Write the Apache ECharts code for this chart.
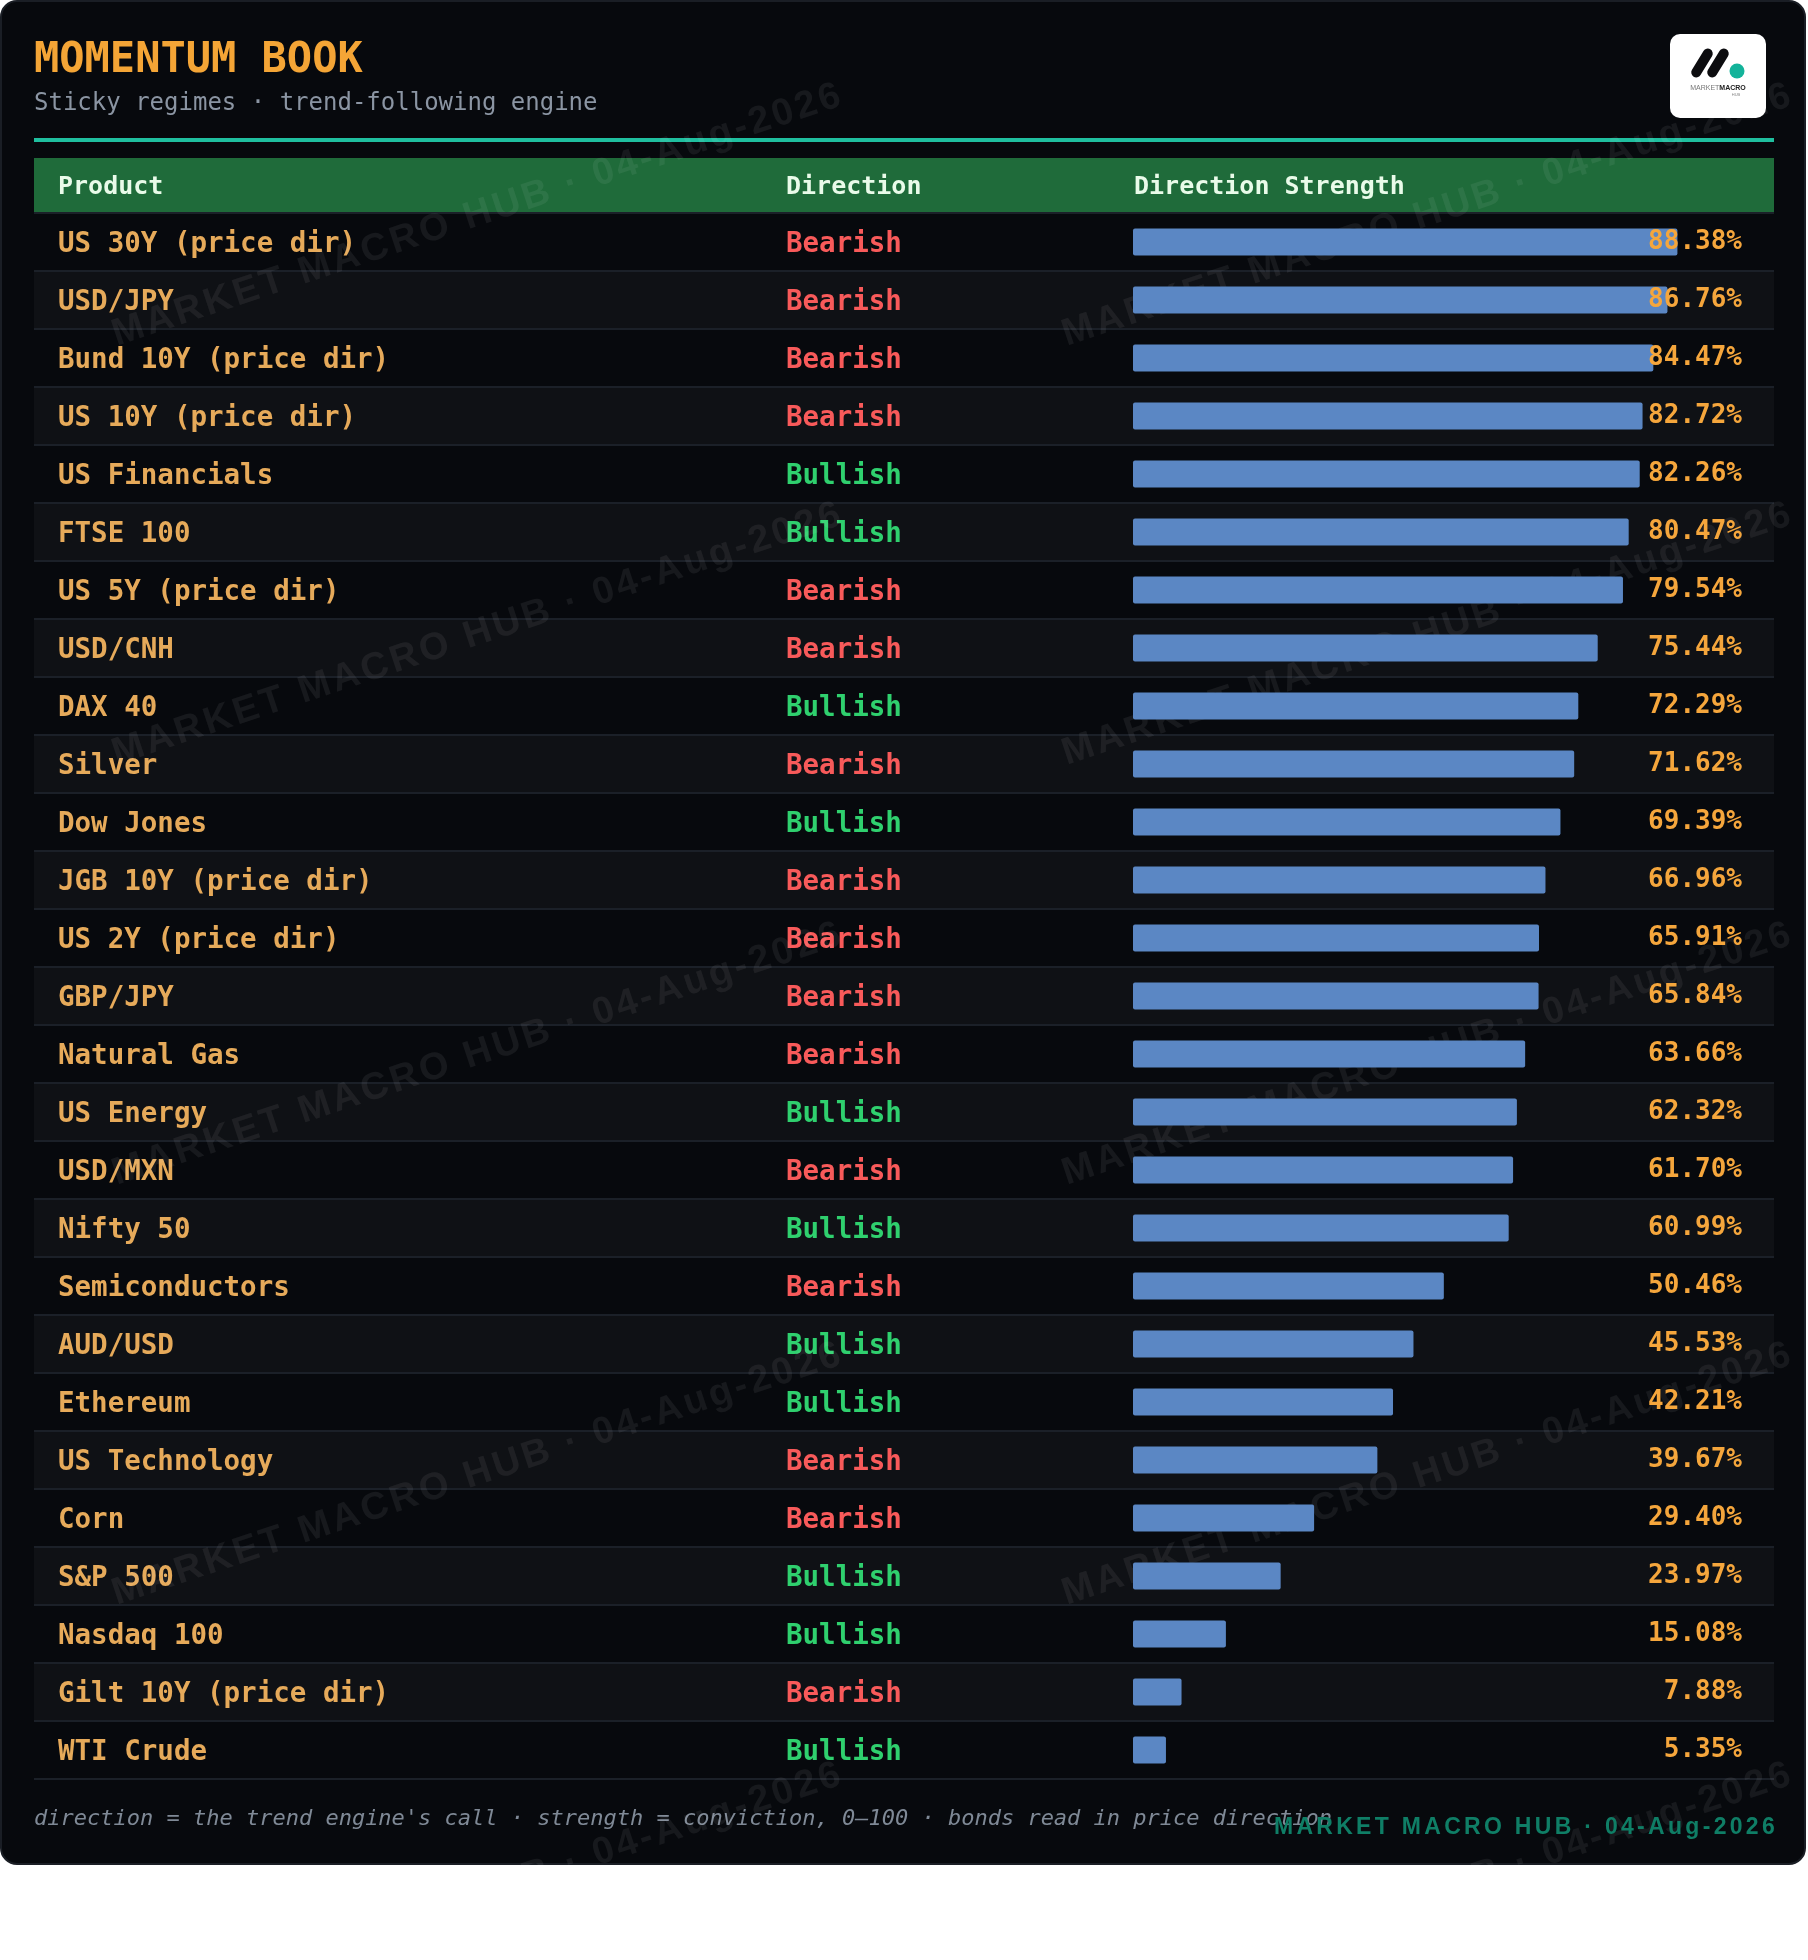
<!DOCTYPE html>
<html>
<head>
<meta charset="utf-8">
<title>Momentum Book</title>
<script src="https://cdn.jsdelivr.net/npm/echarts@6/dist/echarts.min.js"></script>
<style>
  html, body { margin: 0; padding: 0; background: #ffffff; }
  #chart { width: 1808px; height: 1960px; }
</style>
</head>
<body>
<div id="chart"></div>
<script>
// ---- data ----
const products = [
  'US 30Y (price dir)', 'USD/JPY', 'Bund 10Y (price dir)', 'US 10Y (price dir)',
  'US Financials', 'FTSE 100', 'US 5Y (price dir)', 'USD/CNH', 'DAX 40', 'Silver',
  'Dow Jones', 'JGB 10Y (price dir)', 'US 2Y (price dir)', 'GBP/JPY', 'Natural Gas',
  'US Energy', 'USD/MXN', 'Nifty 50', 'Semiconductors', 'AUD/USD', 'Ethereum',
  'US Technology', 'Corn', 'S&P 500', 'Nasdaq 100', 'Gilt 10Y (price dir)', 'WTI Crude'
];
const directions = [
  'Bearish', 'Bearish', 'Bearish', 'Bearish', 'Bullish', 'Bullish', 'Bearish', 'Bearish',
  'Bullish', 'Bearish', 'Bullish', 'Bearish', 'Bearish', 'Bearish', 'Bearish', 'Bullish',
  'Bearish', 'Bullish', 'Bearish', 'Bullish', 'Bullish', 'Bearish', 'Bearish', 'Bullish',
  'Bullish', 'Bearish', 'Bullish'
];
const strengths = [
  88.38, 86.76, 84.47, 82.72, 82.26, 80.47, 79.54, 75.44, 72.29, 71.62, 69.39, 66.96,
  65.91, 65.84, 63.66, 62.32, 61.70, 60.99, 50.46, 45.53, 42.21, 39.67, 29.40, 23.97,
  15.08, 7.88, 5.35
];
const columnTitles = ['Product', 'Direction', 'Direction Strength'];
const titleText = 'MOMENTUM BOOK';
const subtitleText = 'Sticky regimes · trend-following engine';
const footNote = "direction = the trend engine's call · strength = conviction, 0–100 · bonds read in price direction";
const brandLine = 'MARKET MACRO HUB · 04-Aug-2026';

// ---- layout ----
const MONO = "'DejaVu Sans Mono', monospace";
const SANS = "'Liberation Sans', Arial, sans-serif";
const tableLeft = 34, tableWidth = 1740;
const rowsTop = 213, rowH = 58;
const barLeft = 1133, barWidth = 616;

// echarts has no letter-spacing option; the brand line is tracked out on canvas
const baseFillText = CanvasRenderingContext2D.prototype.fillText;
CanvasRenderingContext2D.prototype.fillText = function (t, x, y, w) {
  if (t === brandLine) {
    this.letterSpacing = '3.3px';
    baseFillText.call(this, t, x, y, w);
    this.letterSpacing = '0px';
    return;
  }
  return w === undefined ? baseFillText.call(this, t, x, y) : baseFillText.call(this, t, x, y, w);
};

const watermarks = [];
[478, 1428].forEach(function (cx) {
  [215, 634, 1054, 1474, 1894].forEach(function (cy) {
    watermarks.push({
      type: 'text', x: cx, y: cy, rotation: 0.32, z: 1, silent: true,
      style: {
        text: brandLine, align: 'center', verticalAlign: 'middle',
        font: 'bold 38px ' + SANS, fill: 'rgba(255,255,255,0.065)'
      }
    });
  });
});

const logo = {
  type: 'group', x: 1670, y: 34, z: 3,
  children: [
    { type: 'rect', shape: { x: 0, y: 0, width: 96, height: 84, r: 10 }, style: { fill: '#ffffff' } },
    { type: 'rect', x: 32, y: 29, rotation: -0.55, shape: { x: -5, y: -16, width: 10, height: 32, r: 5 }, style: { fill: '#0c0c0f' } },
    { type: 'rect', x: 48, y: 29, rotation: -0.55, shape: { x: -5, y: -16, width: 10, height: 32, r: 5 }, style: { fill: '#0c0c0f' } },
    { type: 'circle', shape: { cx: 67, cy: 37, r: 7.5 }, style: { fill: '#13b39a' } },
    {
      type: 'text', x: 48, y: 54,
      style: {
        text: '{a|MARKET}{b|MACRO}', align: 'center', verticalAlign: 'middle',
        rich: {
          a: { fontFamily: SANS, fontSize: 7, fill: '#777777' },
          b: { fontFamily: SANS, fontSize: 7, fontWeight: 'bold', fill: '#222222' }
        }
      }
    },
    { type: 'text', x: 66, y: 61, style: { text: 'HUB', align: 'center', verticalAlign: 'middle', font: '4px ' + SANS, fill: '#888888' } }
  ]
};

const chart = echarts.init(document.getElementById('chart'), null, { renderer: 'canvas' });

chart.setOption({
  backgroundColor: '#ffffff',
  animation: false,
  grid: [
    { left: tableLeft, top: rowsTop, width: tableWidth, height: rowH * products.length },
    { left: barLeft, top: rowsTop, width: barWidth, height: rowH * products.length }
  ],
  xAxis: [
    { gridIndex: 0, type: 'value', show: false, min: 0, max: 1 },
    { gridIndex: 1, type: 'value', show: false, min: 0, max: 100 }
  ],
  yAxis: [
    {
      // row stripes, separators and product names across the whole table
      gridIndex: 0, type: 'category', data: products, inverse: true,
      axisLine: { show: false }, axisTick: { show: false },
      splitArea: { show: true, interval: 0, areaStyle: { color: ['#07090d', '#0f1115'] } },
      splitLine: { show: true, interval: 0, lineStyle: { color: '#1b2028', width: 2 } },
      axisLabel: {
        inside: true, margin: 24, align: 'left', interval: 0,
        formatter: function (v) { return '{p|' + v + '}'; },
        rich: {
          p: { color: '#e6aa5a', fontFamily: MONO, fontWeight: 'bold', fontSize: 27.5, padding: [6, 0, 0, 0] }
        }
      }
    },
    {
      // direction column
      gridIndex: 1, type: 'category', data: products, inverse: true, position: 'left',
      axisLine: { show: false }, axisTick: { show: false },
      axisLabel: {
        margin: barLeft - 786, align: 'left', interval: 0, padding: [6, 0, 0, 0],
        formatter: function (v, i) {
          return directions[i] === 'Bullish' ? '{bull|' + directions[i] + '}' : '{bear|' + directions[i] + '}';
        },
        rich: {
          bull: { color: '#2fd06e', fontFamily: MONO, fontWeight: 'bold', fontSize: 27.5 },
          bear: { color: '#f85a5a', fontFamily: MONO, fontWeight: 'bold', fontSize: 27.5 }
        }
      }
    },
    {
      // strength figures, drawn over the bars
      gridIndex: 1, type: 'category', data: products, inverse: true, position: 'right', z: 5,
      axisLine: { show: false }, axisTick: { show: false },
      axisLabel: {
        margin: -7, align: 'right', interval: 0, padding: [2, 0, 0, 0],
        formatter: function (v, i) { return strengths[i].toFixed(2) + '%'; },
        color: '#f5a63c', fontFamily: MONO, fontWeight: 'bold', fontSize: 26
      }
    }
  ],
  series: [{
    type: 'bar', xAxisIndex: 1, yAxisIndex: 1, data: strengths,
    barWidth: 27, silent: true,
    itemStyle: { color: '#5b87c4', borderRadius: 2 }
  }],
  graphic: [
    {
      type: 'rect', z: -10, silent: true,
      shape: { x: 1, y: 1, width: 1804, height: 1863, r: 16 },
      style: { fill: '#07090d', stroke: '#1a1e25', lineWidth: 2 }
    },
    { type: 'text', x: 34, y: 61, style: { text: titleText, verticalAlign: 'middle', font: 'bold 42px ' + MONO, fill: '#f4a536' } },
    { type: 'text', x: 34, y: 104, style: { text: subtitleText, verticalAlign: 'middle', font: '24px ' + MONO, fill: '#8b95a3' } },
    { type: 'rect', shape: { x: tableLeft, y: 138, width: tableWidth, height: 4 }, style: { fill: '#1fbf9f' } },
    { type: 'rect', shape: { x: tableLeft, y: 158, width: tableWidth, height: 55 }, style: { fill: '#1f6b3a' } },
    { type: 'text', x: 58, y: 187, style: { text: columnTitles[0], verticalAlign: 'middle', font: 'bold 25px ' + MONO, fill: '#e9fbe9' } },
    { type: 'text', x: 786, y: 187, style: { text: columnTitles[1], verticalAlign: 'middle', font: 'bold 25px ' + MONO, fill: '#e9fbe9' } },
    { type: 'text', x: 1134, y: 187, style: { text: columnTitles[2], verticalAlign: 'middle', font: 'bold 25px ' + MONO, fill: '#e9fbe9' } },
    { type: 'text', x: 34, y: 1819, style: { text: footNote, verticalAlign: 'middle', font: 'italic 22px ' + MONO, fill: '#7f8996' } },
    { type: 'text', x: 1778, y: 1828, z: 3, style: { text: brandLine, align: 'right', verticalAlign: 'middle', font: 'bold 23px ' + SANS, fill: '#0f7e66' } },
    logo
  ].concat(watermarks)
});
</script>
</body>
</html>
